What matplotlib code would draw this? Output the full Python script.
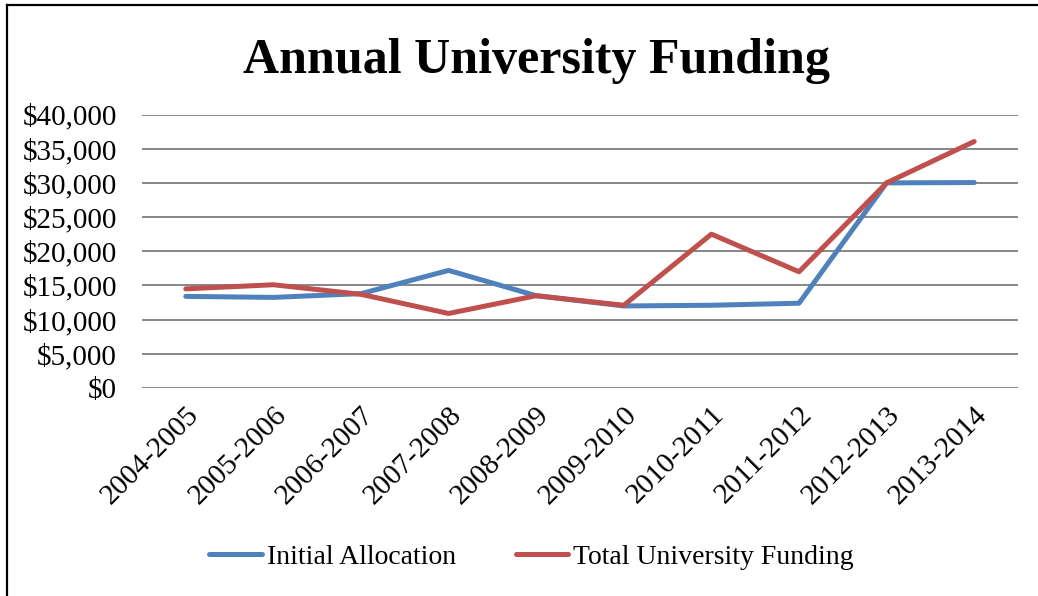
import matplotlib.pyplot as plt
from matplotlib.lines import Line2D
from matplotlib.ticker import FuncFormatter

# data
years = ['2004-2005', '2005-2006', '2006-2007', '2007-2008', '2008-2009',
         '2009-2010', '2010-2011', '2011-2012', '2012-2013', '2013-2014']
initial_allocation = [13400, 13250, 13800, 17200, 13500, 12000, 12100, 12400, 30000, 30050]
total_funding = [14500, 15100, 13700, 10900, 13500, 12100, 22500, 17000, 30000, 36050]

plt.rcParams['font.family'] = ['Liberation Serif', 'DejaVu Serif']

fig = plt.figure(figsize=(10.38, 5.96), dpi=100)
ax = fig.add_axes([142 / 1038, 1 - 388 / 596, (1018 - 142) / 1038, (388 - 114.5) / 596])

x = range(len(years))
ax.plot(x, initial_allocation, color='#4F81BD', linewidth=3.6, solid_capstyle='round',
        label='Initial Allocation')
ax.plot(x, total_funding, color='#C0504D', linewidth=3.6, solid_capstyle='round',
        label='Total University Funding')

ax.set_xlim(-0.5, len(years) - 0.5)
ax.set_ylim(0, 40000)
ax.set_yticks(range(0, 40001, 5000))
ax.yaxis.set_major_formatter(FuncFormatter(lambda v, p: f'${v:,.0f}'))
ax.set_xticks(list(x))
ax.set_xticklabels(years, rotation=45, ha='right', va='top', rotation_mode='anchor')
ax.tick_params(axis='both', length=0, labelsize=21)
ax.tick_params(axis='y', pad=18)
ax.tick_params(axis='x', pad=10)
ax.grid(True, axis='y', color='#868686', linewidth=1.4)
ax.set_axisbelow(True)
for s in ax.spines.values():
    s.set_visible(False)

fig.text(0.517, 0.897, 'Annual University Funding', ha='center', va='center',
         fontsize=36, fontweight='bold')

handles = [Line2D([], [], color='#4F81BD', linewidth=3.6, solid_capstyle='round'),
           Line2D([], [], color='#C0504D', linewidth=3.6, solid_capstyle='round')]
fig.legend(handles, ['Initial Allocation', 'Total University Funding'],
           loc='center', bbox_to_anchor=(0.512, 0.065), ncol=2, frameon=False,
           fontsize=20, handlelength=1.9, handletextpad=0.18, columnspacing=2.15)

# outer frame: only top and left edges are visible
fig.add_artist(Line2D([7 / 1038, 1], [1 - 4.5 / 596, 1 - 4.5 / 596], color='black',
                      linewidth=1.6, transform=fig.transFigure))
fig.add_artist(Line2D([7 / 1038, 7 / 1038], [0, 1 - 4.5 / 596], color='black',
                      linewidth=1.6, transform=fig.transFigure))

fig.savefig('out.png', dpi=100)
